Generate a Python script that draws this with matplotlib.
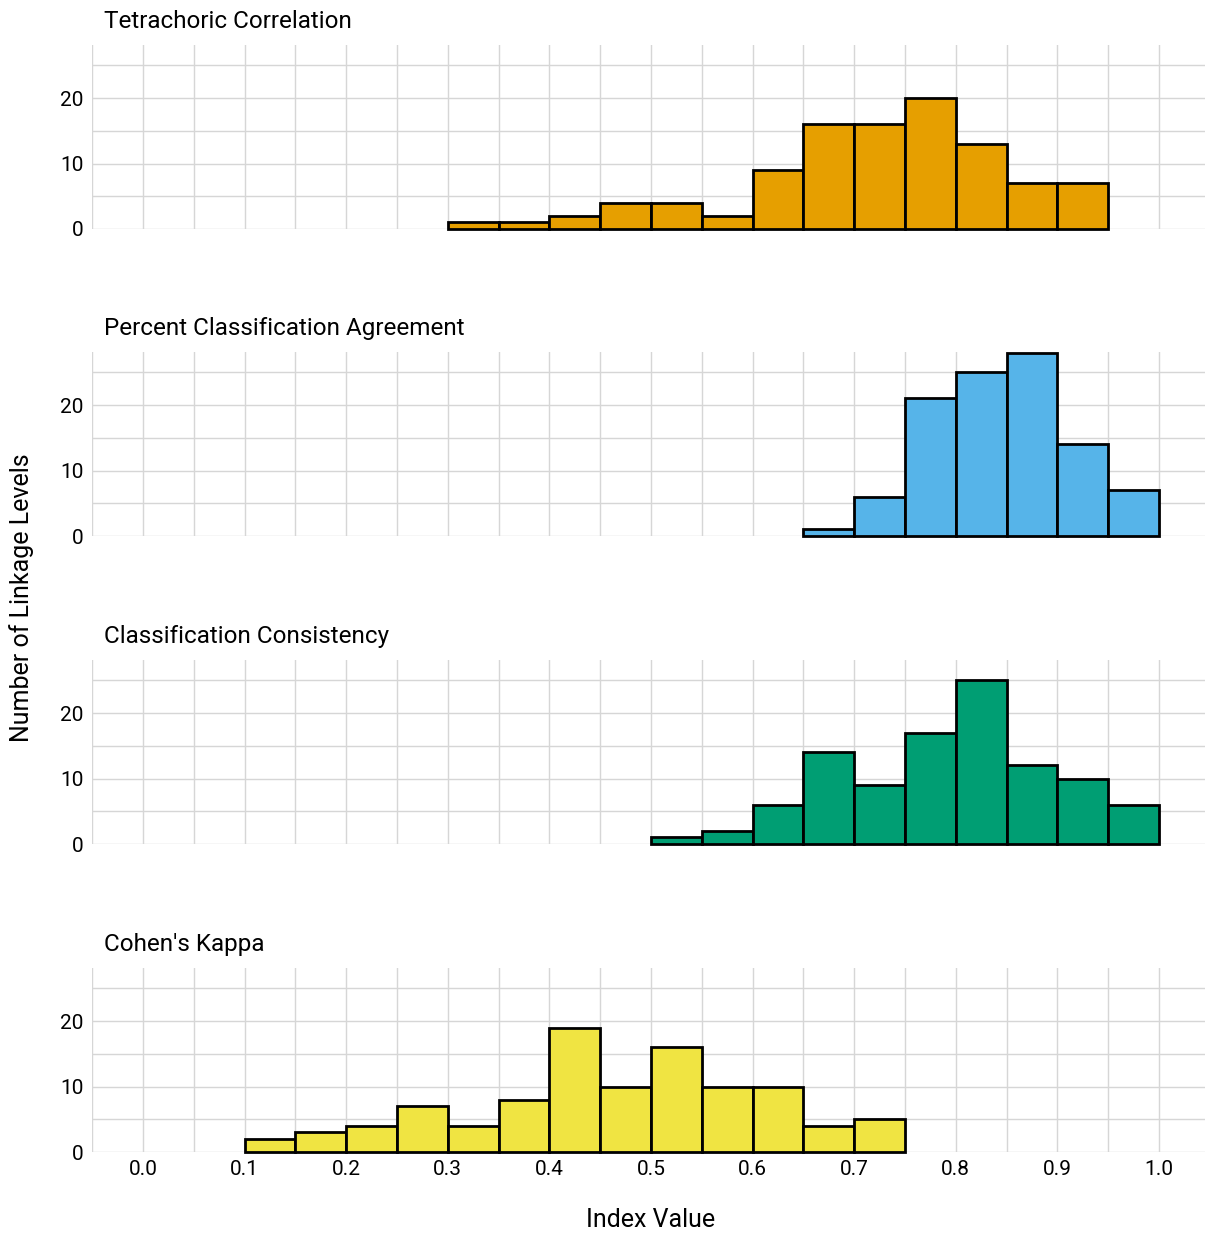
import matplotlib
matplotlib.use("Agg")
import matplotlib.pyplot as plt
import numpy as np
from matplotlib.ticker import MultipleLocator

plt.rcParams['font.family'] = ['Roboto', 'DejaVu Sans']

titles = ["Tetrachoric Correlation", "Percent Classification Agreement",
          "Classification Consistency", "Cohen's Kappa"]
colors = ["#E69F00", "#56B4E9", "#009E73", "#F0E442"]
bin_width = 0.05

tetra_start = 0.30
tetra_counts = [1, 1, 2, 4, 4, 2, 9, 16, 16, 20, 13, 7, 7]
pca_start = 0.65
pca_counts = [1, 6, 21, 25, 28, 14, 7]
cc_start = 0.50
cc_counts = [1, 2, 6, 14, 9, 17, 25, 12, 10, 6]
kappa_start = 0.10
kappa_counts = [2, 3, 4, 7, 4, 8, 19, 10, 16, 10, 10, 4, 5]

starts = [tetra_start, pca_start, cc_start, kappa_start]
counts = [tetra_counts, pca_counts, cc_counts, kappa_counts]
xticks = [round(0.1 * i, 1) for i in range(11)]

W, H = 1206, 1234
fig = plt.figure(figsize=(W / 100, H / 100), dpi=100)
tops = [45, 352, 660, 968]
ph = 184
ax_left, ax_right = 92, 1205
x0_px, x1_px = 143, 1159
ppu = x1_px - x0_px
xlo = (ax_left - x0_px) / ppu
xhi = 1 + (ax_right - x1_px) / ppu
for i in range(4):
    top = tops[i]
    ax = fig.add_axes([ax_left / W, 1 - (top + ph) / H, (ax_right - ax_left) / W, ph / H])
    c = counts[i]
    lefts = starts[i] + bin_width * np.arange(len(c))
    ax.bar(lefts, c, width=bin_width, align='edge', color=colors[i],
           edgecolor='black', linewidth=2, clip_on=False, zorder=3)
    ax.set_xlim(xlo, xhi)
    ax.set_ylim(0, 28.1)
    ax.xaxis.set_major_locator(MultipleLocator(0.1))
    ax.xaxis.set_minor_locator(MultipleLocator(0.05))
    ax.yaxis.set_major_locator(MultipleLocator(10))
    ax.yaxis.set_minor_locator(MultipleLocator(5))
    ax.grid(which='both', color='#d6d6d6', linewidth=1.0, zorder=0)
    ax.set_axisbelow(True)
    for s in ax.spines.values():
        s.set_visible(False)
    ax.tick_params(which='both', length=0)
    ax.tick_params(axis='y', labelsize=15, pad=6)
    ax.tick_params(axis='x', labelsize=15, pad=6)
    ax.set_yticks([0, 10, 20])
    ax.set_xticks(xticks)
    if i < 3:
        ax.set_xticklabels([])
    else:
        ax.set_xticklabels([f"{v:.1f}" for v in xticks])
    ax.set_title(titles[i], loc='left', fontsize=17.5, pad=12,
                 x=12 / (ax_right - ax_left))

fig.text(22 / W, 1 - 598 / H, "Number of Linkage Levels", rotation=90,
         ha='center', va='center', fontsize=18)
fig.text((x0_px + x1_px) / 2 / W, 1 - 1220 / H, "Index Value",
         ha='center', va='center', fontsize=18)

fig.savefig("out.png", dpi=100)
